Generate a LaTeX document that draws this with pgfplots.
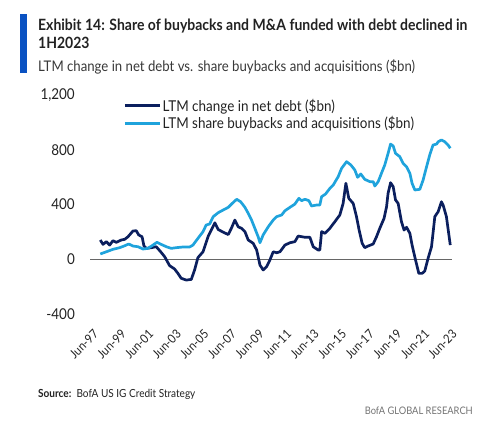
\documentclass[border=0pt]{standalone}
\usepackage{fontspec}
\setmainfont{Lato}[FakeStretch=0.9]
\usepackage{pgfplots}
\pgfplotsset{compat=1.18}
\definecolor{navy}{HTML}{0B1F5E}
\definecolor{sky}{HTML}{1FA3DC}
\definecolor{bofablue}{HTML}{0A52C2}
\definecolor{txt}{HTML}{222222}
\begin{document}
\begin{tikzpicture}
\path[use as bounding box] (0bp,0bp) rectangle (500bp,425bp);
\fill[bofablue] (20bp,411bp) rectangle (27bp,352bp);
\node[anchor=base west, inner sep=0, text=txt, font=\bfseries\fontsize{15.6}{17}\selectfont] at (38bp,394.5bp) {Exhibit 14: Share of buybacks and M\&A funded with debt declined in};
\node[anchor=base west, inner sep=0, text=txt, font=\bfseries\fontsize{15.6}{17}\selectfont] at (38bp,376bp) {1H2023};
\node[anchor=base west, inner sep=0, text=txt!90, font=\fontsize{14.7}{17}\selectfont] at (38bp,353.5bp) {LTM change in net debt vs. share buybacks and acquisitions (\$bn)};
\node[anchor=base west, inner sep=0, text=txt, font=\fontsize{11.2}{13}\selectfont] at (38bp,28bp) {\textbf{Source:}\ \ BofA US IG Credit Strategy};
\node[anchor=base east, inner sep=0, text=black!55, font=\fontsize{10.4}{12}\selectfont] at (473bp,11bp) {BofA GLOBAL RESEARCH};
\begin{axis}[
  at={(90bp,111.3bp)}, anchor=south west,
  scale only axis, width=362bp, height=218.7bp,
  xmin=1997.375, xmax=2023.625, ymin=-400, ymax=1200,
  axis line style={draw=none},
  major tick length=0pt,
  ytick={-400,0,400,800,1200},
  xtick={1997.5,1999.5,2001.5,2003.5,2005.5,2007.5,2009.5,2011.5,2013.5,2015.5,2017.5,2019.5,2021.5,2023.5},
  xticklabels={Jun-97,Jun-99,Jun-01,Jun-03,Jun-05,Jun-07,Jun-09,Jun-11,Jun-13,Jun-15,Jun-17,Jun-19,Jun-21,Jun-23},
  /pgf/number format/.cd, 1000 sep={,}, assume math mode=true,
  /pgfplots/.cd,
  yticklabel style={anchor=east, inner sep=0pt, xshift=-15bp, text=txt, font=\fontsize{15}{17}\selectfont},
  xticklabel style={yshift=-15bp, xshift=1bp, rotate=45, anchor=north east, inner sep=0pt, text=txt, font=\fontsize{12.5}{14}\selectfont},
  clip=false,
  legend style={at={(0.092,0.99)}, anchor=north west, draw=none, fill=none, inner sep=0pt,
    font=\fontsize{15}{17}\selectfont, row sep=1bp, nodes={inner sep=1.5bp, text=txt}},
  legend cell align=left,
  legend image code/.code={\draw[#1] (0bp,0bp) -- (35bp,0bp);},
]
\draw[black!60, line width=0.9bp] (axis cs:1997.375,0) -- (axis cs:2023.625,0);
\addplot[navy, line width=2.7bp, line join=round] coordinates {
(1998.12,139)(1998.32,107)(1998.56,127)(1998.80,102)(1999.04,134)(1999.28,122)(1999.64,139)(1999.89,144)
(2000.13,163)(2000.49,205)(2000.73,207)(2000.91,176)(2001.15,163)(2001.29,95)(2001.46,78)(2001.82,83)
(2002.18,90)(2002.50,53)(2002.79,17)(2003.15,-49)(2003.51,-73)(2003.75,-105)(2003.99,-141)(2004.36,-154)
(2004.72,-149)(2004.96,-80)(2005.20,10)(2005.57,53)(2005.95,167)(2006.43,265)(2006.67,216)(2007.04,196)
(2007.40,179)(2007.64,228)(2007.88,285)(2008.12,236)(2008.37,224)(2008.61,200)(2008.85,139)(2009.21,115)
(2009.46,66)(2009.70,-44)(2009.93,-80)(2010.18,-56)(2010.42,-7)(2010.66,53)(2010.91,46)(2011.15,53)
(2011.51,102)(2011.87,119)(2012.23,127)(2012.47,168)(2012.96,159)(2013.32,159)(2013.56,90)(2013.92,66)
(2014.04,66)(2014.17,200)(2014.41,188)(2014.77,225)(2015.13,273)(2015.49,322)(2015.73,407)(2015.93,554)
(2016.14,444)(2016.46,407)(2016.70,310)(2016.89,212)(2017.11,115)(2017.30,83)(2017.54,95)(2017.91,110)
(2018.15,163)(2018.39,225)(2018.70,298)(2018.88,383)(2018.99,481)(2019.17,558)(2019.36,529)(2019.53,432)
(2019.72,407)(2019.96,273)(2020.15,212)(2020.33,232)(2020.57,188)(2020.73,102)(2020.98,-7)(2021.22,-105)
(2021.46,-105)(2021.65,-88)(2021.89,5)(2022.14,90)(2022.38,310)(2022.62,346)(2022.86,419)(2022.98,395)
(2023.22,310)(2023.5,102)
};
\addlegendentry{LTM change in net debt (\$bn)}
\addplot[sky, line width=2.7bp, line join=round] coordinates {
(1998.12,37)(1998.56,53)(1999.04,71)(1999.53,83)(1999.89,97)(2000.18,110)(2000.49,95)(2000.86,90)
(2001.22,73)(2001.58,78)(2001.94,102)(2002.23,122)(2002.54,107)(2002.91,90)(2003.27,78)(2003.63,83)
(2004.12,88)(2004.60,88)(2004.84,102)(2005.20,151)(2005.57,200)(2005.80,249)(2006.05,256)(2006.31,310)
(2006.67,339)(2007.04,359)(2007.40,378)(2007.69,407)(2008.01,437)(2008.30,419)(2008.61,378)(2008.85,334)
(2009.09,285)(2009.33,224)(2009.57,163)(2009.70,119)(2009.93,176)(2010.30,236)(2010.66,285)(2010.91,310)
(2011.27,322)(2011.51,353)(2011.87,378)(2012.23,402)(2012.52,444)(2012.72,427)(2012.96,437)(2013.25,427)
(2013.44,388)(2013.80,395)(2014.04,395)(2014.17,456)(2014.46,476)(2014.77,517)(2015.01,541)(2015.37,602)
(2015.62,664)(2015.98,712)(2016.29,688)(2016.58,651)(2016.78,598)(2017.01,622)(2017.30,583)(2017.67,566)
(2017.91,566)(2018.03,534)(2018.27,566)(2018.51,627)(2018.75,688)(2018.99,773)(2019.17,841)(2019.36,827)
(2019.53,773)(2019.84,749)(2020.08,700)(2020.33,675)(2020.57,627)(2020.73,554)(2020.93,505)(2021.29,510)
(2021.53,578)(2021.78,675)(2022.01,761)(2022.25,834)(2022.51,841)(2022.62,858)(2022.86,871)(2023.10,858)
(2023.34,834)(2023.5,810)
};
\addlegendentry{LTM share buybacks and acquisitions (\$bn)}
\end{axis}
\end{tikzpicture}
\end{document}
